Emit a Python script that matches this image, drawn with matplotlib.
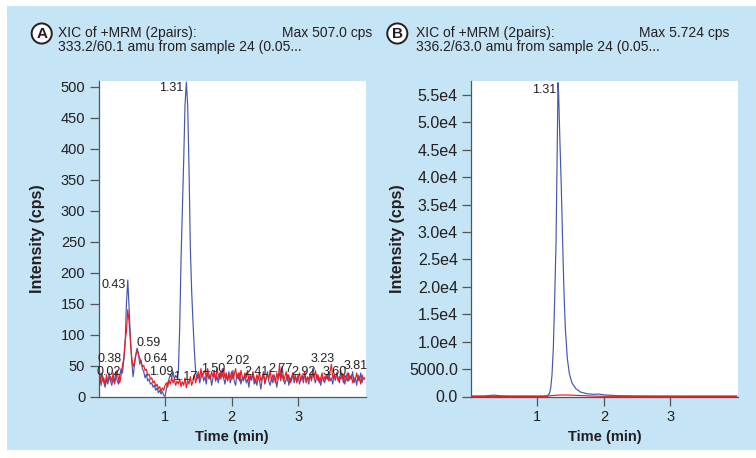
import numpy as np
import matplotlib
matplotlib.use("Agg")
import matplotlib.pyplot as plt
from matplotlib.patches import Rectangle

plt.rcParams['font.family'] = ['Liberation Sans', 'DejaVu Sans']

# panel A: XIC 333.2/60.1, sampled every 0.02 min from 0 to 4.0
time_a = np.round(np.arange(201) * 0.02, 2)
blue_a = [42, 30, 18, 35, 22, 15, 28, 20, 38, 25,
          18, 30, 22, 40, 26, 20, 34, 45, 38, 58,
          85, 150, 188, 140, 95, 55, 32, 50, 68, 78,
          70, 52, 58, 45, 40, 30, 36, 25, 28, 20,
          22, 15, 18, 10, 14, 6, 10, 4, 8, 2,
          0, 12, 22, 28, 36, 30, 40, 28, 34, 30,
          40, 110, 220, 300, 380, 470, 507, 470, 370, 240,
          170, 120, 75, 40, 28, 35, 22, 30, 38, 25,
          32, 20, 40, 28, 35, 18, 30, 42, 25, 33,
          22, 38, 28, 45, 30, 20, 35, 26, 40, 22,
          30, 42, 25, 18, 35, 28, 38, 20, 30, 25,
          35, 22, 28, 15, 32, 26, 38, 20, 28, 18,
          32, 25, 12, 28, 35, 20, 30, 40, 24, 18,
          30, 22, 35, 28, 15, 30, 38, 25, 48, 30,
          20, 28, 35, 18, 30, 25, 38, 22, 30, 26,
          35, 20, 28, 32, 22, 38, 25, 30, 20, 35,
          28, 45, 30, 22, 36, 25, 30, 18, 32, 28,
          22, 35, 28, 40, 25, 30, 20, 35, 26, 38,
          30, 22, 42, 28, 35, 20, 30, 38, 25, 32,
          28, 40, 22, 30, 18, 35, 26, 38, 22, 30,
          28]
red_a = [30, 22, 38, 25, 30, 18, 35, 24, 28, 32,
         25, 38, 20, 30, 42, 28, 22, 35, 50, 62,
         90, 105, 140, 120, 88, 62, 48, 55, 66, 74,
         68, 62, 56, 48, 50, 42, 44, 34, 36, 28,
         30, 22, 25, 16, 20, 12, 16, 8, 14, 10,
         18, 22, 15, 26, 20, 30, 22, 28, 18, 25,
         20, 28, 16, 24, 18, 30, 14, 26, 20, 32,
         18, 25, 35, 22, 30, 40, 28, 45, 32, 38,
         42, 30, 45, 35, 28, 40, 32, 38, 25, 45,
         35, 28, 40, 32, 45, 30, 38, 25, 35, 30,
         40, 28, 35, 45, 30, 38, 25, 42, 32, 28,
         38, 30, 42, 25, 35, 28, 40, 30, 22, 35,
         28, 38, 25, 32, 40, 22, 30, 35, 28, 42,
         25, 35, 30, 22, 38, 28, 52, 30, 35, 25,
         32, 40, 25, 35, 22, 30, 38, 28, 35, 22,
         30, 38, 25, 35, 28, 40, 22, 32, 28, 35,
         25, 38, 30, 42, 28, 35, 22, 30, 38, 25,
         32, 28, 35, 25, 40, 52, 30, 35, 28, 38,
         25, 32, 28, 38, 22, 35, 30, 25, 38, 28,
         35, 22, 30, 28, 38, 25, 32, 20, 35, 28,
         30]
peak_labels_a = ["0.02", "0.38", "0.43", "0.59", "0.64", "1.09", "1.17", "1.31",
                 "1.50", "2.02", "2.41", "2.77", "2.92", "3.23", "3.60", "3.81"]
peak_label_x_a = [0.16, 0.17, 0.23, 0.76, 0.86, 0.95, 1.30, 1.09,
                  1.72, 2.09, 2.38, 2.74, 3.08, 3.37, 3.55, 3.87]
peak_label_y_a = [39, 60, 180, 86, 61, 40, 31, 497,
                  45, 58, 39, 45, 40, 60, 40, 50]

# panel B: XIC 336.2/63.0
time_b = [0.0, 0.2, 0.35, 0.45, 0.6, 0.8, 1.0, 1.1, 1.15, 1.18, 1.20, 1.22, 1.24,
          1.26, 1.28, 1.30, 1.31, 1.32, 1.34, 1.36, 1.38, 1.40, 1.42, 1.45, 1.48,
          1.52, 1.58, 1.65, 1.75, 1.85, 1.92, 2.0, 2.2, 2.5, 3.0, 3.5, 4.0]
blue_b = [80, 100, 250, 120, 90, 100, 80, 90, 150, 500, 1500, 4000, 9000,
          18000, 28000, 47000, 57240, 55000, 46000, 38000, 28000, 19000, 12500, 7000, 4200,
          2500, 1400, 800, 500, 400, 450, 300, 150, 100, 80, 80, 80]
time_b_red = [0.0, 1.0, 1.15, 1.2, 1.3, 1.4, 1.5, 1.6, 1.7, 1.8, 1.9, 2.0, 4.0]
red_b = [20, 20, 30, 150, 250, 280, 250, 200, 150, 100, 60, 30, 20]
yticks_b = [0, 5000, 10000, 15000, 20000, 25000, 30000, 35000, 40000, 45000, 50000, 55000]
yticklabels_b = ["0.0", "5000.0", "1.0e4", "1.5e4", "2.0e4", "2.5e4", "3.0e4",
                 "3.5e4", "4.0e4", "4.5e4", "5.0e4", "5.5e4"]

BLUE = '#4656ad'
RED = '#ec1c24'
TXT = '#231f20'
BG = '#c5e4f6'
W, H = 756, 458

fig = plt.figure(figsize=(W / 100, H / 100), dpi=100, facecolor='white')
fig.patches.append(Rectangle((7 / W, 1 - 450 / H), 1 - 7 / W, (450 - 6) / H,
                             transform=fig.transFigure, facecolor=BG, edgecolor='none', zorder=-10))


def px(x, y):
    return x / W, 1 - y / H


def style_axes(ax, tick_size):
    for s in ['top', 'right']:
        ax.spines[s].set_visible(False)
    for s in ['left', 'bottom']:
        ax.spines[s].set_color('#555555')
        ax.spines[s].set_linewidth(0.9)
    ax.tick_params(direction='out', length=6.5, width=0.9, color='#555555',
                   labelsize=tick_size, labelcolor=TXT, pad=3)
    ax.tick_params(axis='x', labelsize=10.5)
    ax.set_xlim(0, 4.02)
    ax.set_xticks([1, 2, 3])
    ax.set_xlabel('Time (min)', fontsize=10.5, fontweight='bold', color=TXT)
    ax.set_ylabel('Intensity (cps)', fontsize=11.5, fontweight='bold', color=TXT)


axA = fig.add_axes([98.5 / W, 1 - 396.5 / H, 267.5 / W, 315.5 / H])
axA.plot(time_a, blue_a, color=BLUE, lw=0.85)
axA.plot(time_a, red_a, color=RED, lw=0.85)
style_axes(axA, 10.5)
axA.set_ylim(0, 509)
axA.set_yticks(range(0, 501, 50))
axA.yaxis.set_label_coords(-0.2, 0.5)
axA.xaxis.set_label_coords(0.5, -0.106)
for lab, lx, ly in zip(peak_labels_a, peak_label_x_a, peak_label_y_a):
    axA.text(lx, ly, lab, fontsize=9, color=TXT, ha='center', va='center')

axB = fig.add_axes([471 / W, 1 - 396.5 / H, 267 / W, 315.5 / H])
axB.plot(time_b, blue_b, color=BLUE, lw=0.85)
axB.plot(time_b_red, red_b, color=RED, lw=0.85)
style_axes(axB, 11.5)
axB.set_ylim(0, 57550)
axB.set_yticks(yticks_b)
axB.set_yticklabels(yticklabels_b)
axB.yaxis.set_label_coords(-0.247, 0.5)
axB.xaxis.set_label_coords(0.5, -0.106)
axB.text(1.10, 55900, "1.31", fontsize=9, color=TXT, ha='center', va='center')

# headers
for letter, cx, tx, rx, l1, l2, mx in [
        ("A", 41.7, 58.5, 372.5, "XIC of +MRM (2pairs):", "333.2/60.1 amu from sample 24 (0.05...", "Max 507.0 cps"),
        ("B", 397.3, 415.7, 729.5, "XIC of +MRM (2pairs):", "336.2/63.0 amu from sample 24 (0.05...", "Max 5.724 cps")]:
    fig.text(*px(cx, 33.5), letter, fontsize=11, fontweight='bold', color=TXT,
             ha='center', va='center',
             bbox=dict(boxstyle='circle,pad=0.2', fc='white', ec=TXT, lw=1.4))
    fig.text(*px(tx, 33), l1, fontsize=10, color=TXT, ha='left', va='center')
    fig.text(*px(tx, 47.5), l2, fontsize=10, color=TXT, ha='left', va='center')
    fig.text(*px(rx, 33), mx, fontsize=10, color=TXT, ha='right', va='center')

fig.savefig('out.png', dpi=100, facecolor='white')
